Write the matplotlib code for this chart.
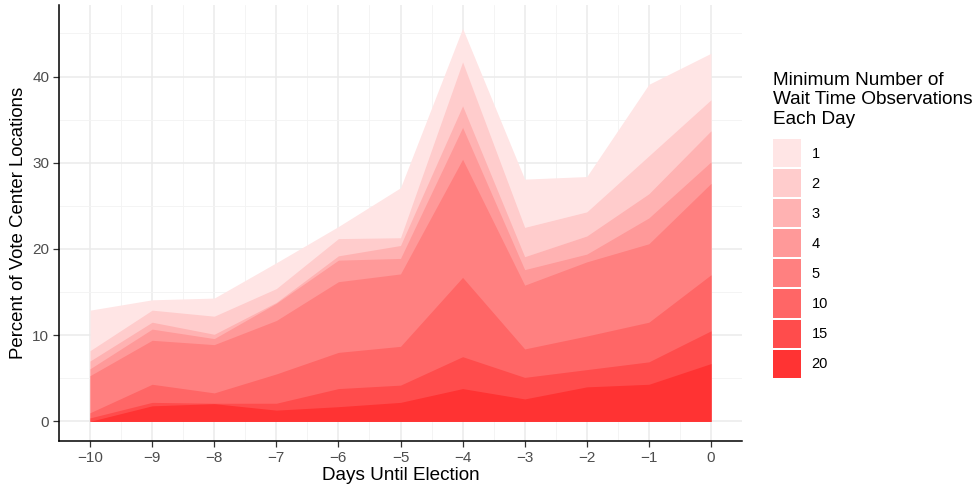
import matplotlib
matplotlib.use("Agg")
from matplotlib import pyplot as plt
from matplotlib.patches import Patch

plt.rcParams['font.family'] = ['Liberation Sans', 'DejaVu Sans']

# дни до выборов
days = [-10, -9, -8, -7, -6, -5, -4, -3, -2, -1, 0]

# минимальное число наблюдений и доля локаций (%)
levels = ["1", "2", "3", "4", "5", "10", "15", "20"]
pct_1 = [12.9, 14.1, 14.3, 18.4, 22.6, 27.1, 45.6, 28.1, 28.4, 39.1, 42.7]
pct_2 = [8.2, 12.9, 12.2, 15.4, 21.2, 21.3, 41.7, 22.5, 24.3, 30.8, 37.3]
pct_3 = [7.0, 11.5, 10.1, 13.8, 19.2, 20.4, 36.6, 19.1, 21.5, 26.4, 33.7]
pct_4 = [6.1, 10.7, 9.6, 13.7, 18.7, 18.9, 34.1, 17.6, 19.4, 23.6, 30.1]
pct_5 = [5.3, 9.4, 8.9, 11.7, 16.2, 17.1, 30.4, 15.8, 18.5, 20.6, 27.6]
pct_10 = [1.0, 4.3, 3.3, 5.5, 8.0, 8.7, 16.7, 8.4, 9.9, 11.5, 17.0]
pct_15 = [0.4, 2.2, 2.1, 2.1, 3.8, 4.2, 7.5, 5.1, 6.0, 6.9, 10.5]
pct_20 = [0.0, 1.8, 2.05, 1.3, 1.7, 2.2, 3.8, 2.6, 4.0, 4.3, 6.7]

series = [pct_1, pct_2, pct_3, pct_4, pct_5, pct_10, pct_15, pct_20]
colors = ["#FFE5E5", "#FFCCCC", "#FFB2B2", "#FF9999",
          "#FF8080", "#FF6666", "#FF4C4C", "#FF3333"]

fig = plt.figure(figsize=(9.8, 4.93), dpi=100)
ax = fig.add_axes([59/980, 52/493, 683/980, 436/493])

for vals, c in zip(series, colors):
    ax.fill_between(days, 0, vals, color=c, linewidth=0, zorder=2)

ax.set_xlim(-10.5, 0.5)
ax.set_ylim(-2.28, 48.3)
ax.set_xticks(days)
ax.set_xticklabels(["\u2212%d" % -d if d < 0 else "0" for d in days])
ax.set_xticks([d + 0.5 for d in days[:-1]] + [-10.5], minor=True)
ax.set_yticks([0, 10, 20, 30, 40])
ax.set_yticks([5, 15, 25, 35, 45], minor=True)

ax.grid(which="major", color="#EBEBEB", linewidth=1.1, zorder=0)
ax.grid(which="minor", color="#F3F3F3", linewidth=0.6, zorder=0)
ax.set_axisbelow(True)

for s in ["top", "right"]:
    ax.spines[s].set_visible(False)
for s in ["left", "bottom"]:
    ax.spines[s].set_linewidth(1.1)
    ax.spines[s].set_color("black")

ax.tick_params(which="major", length=4, width=0.9, color="#333333",
               labelsize=11, labelcolor="#4D4D4D", pad=3)
ax.tick_params(which="minor", length=0)

ax.set_xlabel("Days Until Election", fontsize=13.6, labelpad=2)
ax.set_ylabel("Percent of Vote Center Locations", fontsize=13.4, labelpad=4)

handles = [Patch(facecolor=c, edgecolor="none", label=l) for c, l in zip(colors, levels)]
leg = fig.legend(handles=handles, loc="upper left", bbox_to_anchor=(767/980, 1 - 66/493),
                 title="Minimum Number of\nWait Time Observations\nEach Day",
                 frameon=False, fontsize=10.5, title_fontsize=13.7,
                 handlelength=1.9, handleheight=2.58, labelspacing=0.14,
                 handletextpad=0.75, borderaxespad=0)
leg._legend_box.align = "left"
leg._legend_box.sep = 8

fig.savefig("out.png", dpi=100)
